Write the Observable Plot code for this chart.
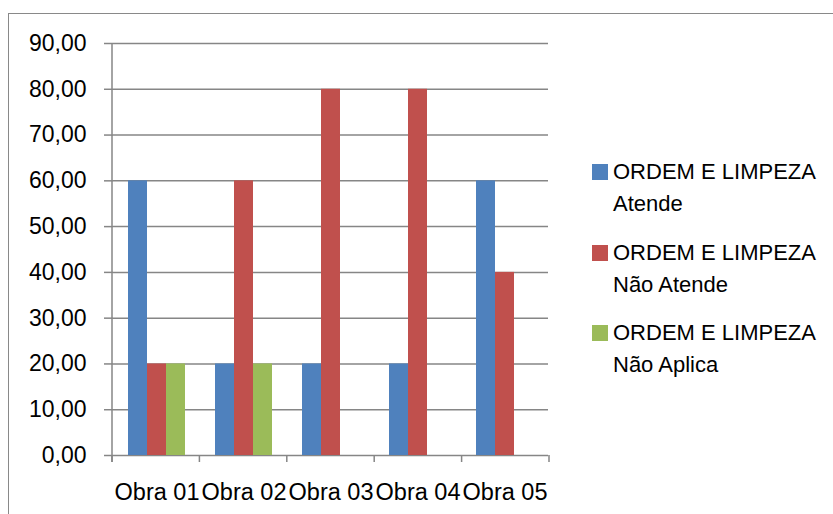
<!DOCTYPE html>
<html>
<head>
<meta charset="utf-8">
<script src="https://cdn.jsdelivr.net/npm/d3@7"></script>
<script src="https://cdn.jsdelivr.net/npm/@observablehq/plot@0.6"></script>
<style>
  html, body { margin: 0; padding: 0; background: #fff; }
  body { width: 833px; height: 514px; overflow: hidden; position: relative;
         font-family: 'Liberation Sans', Arial, sans-serif; }
  #frame { position: absolute; left: 8px; top: 13px; width: 900px; height: 600px;
           border-top: 1.5px solid #898989; border-left: 1.5px solid #898989; }
  #chart { position: absolute; left: 0; top: 0; }
  #legend { position: absolute; left: 613px; top: 0; font-size: 22px; color: #000; }
  .item { position: absolute; left: 0; white-space: nowrap; line-height: 32px; }
  .sw { position: absolute; left: -21px; top: 8px; width: 16px; height: 16px; }
</style>
</head>
<body>
<div id="frame"></div>
<div id="chart"></div>
<div id="legend"></div>
<script>
const categories = ["Obra 01", "Obra 02", "Obra 03", "Obra 04", "Obra 05"];
const seriesNames = ["ORDEM E LIMPEZA Atende", "ORDEM E LIMPEZA Não Atende", "ORDEM E LIMPEZA Não Aplica"];
const legendLine1 = ["ORDEM E LIMPEZA", "ORDEM E LIMPEZA", "ORDEM E LIMPEZA"];
const legendLine2 = ["Atende", "Não Atende", "Não Aplica"];
const atende = [60, 20, 20, 20, 60];
const naoAtende = [20, 60, 80, 80, 40];
const naoAplica = [20, 20, 0, 0, 0];
const seriesColors = ["#4F81BD", "#C0504D", "#9BBB59"];
const yTicks = [0, 10, 20, 30, 40, 50, 60, 70, 80, 90];

const seriesValues = [atende, naoAtende, naoAplica];
const data = categories.flatMap((c, i) =>
  seriesNames.map((s, j) => ({obra: c, serie: s, valor: seriesValues[j][i]}))
);

const fmt = d => d.toFixed(2).replace(".", ",");

const plot = Plot.plot({
  width: 560,
  height: 514,
  marginLeft: 112,
  marginRight: 11,
  marginTop: 43,
  marginBottom: 59,
  style: {fontFamily: "'Liberation Sans', Arial, sans-serif", fontSize: "22px", color: "#000", background: "transparent", overflow: "visible"},
  fx: {domain: categories, padding: 0, label: null},
  x: {domain: seriesNames, paddingInner: 0, paddingOuter: 0.75, axis: null},
  y: {domain: [0, 90], label: null},
  color: {domain: seriesNames, range: seriesColors},
  marks: [
    Plot.gridY(yTicks, {stroke: "#868686", strokeOpacity: 1, strokeWidth: 1.5}),
    Plot.barY(data, {fx: "obra", x: "serie", y: "valor", fill: "serie"}),
    Plot.axisY(yTicks, {tickSize: 9, tickPadding: 18, tickFormat: fmt, stroke: "#868686", strokeWidth: 1.5, fill: "#000", fontSize: 23, label: null}),
    Plot.axisFx({anchor: "bottom", tickSize: 0, tickPadding: 28, label: null, fill: "#000", fontSize: 23.5})
  ]
});
document.getElementById("chart").appendChild(plot);

// Excel-style axis line and category-boundary ticks, from Plot's own scales
const fxS = plot.scale("fx");
const yS = plot.scale("y");
const band = d3.scaleBand().domain(fxS.domain).range(fxS.range).padding(0);
const ySc = d3.scaleLinear().domain(yS.domain).range(yS.range);
const edges = [...fxS.domain.map(d => band(d)), band.range()[1]];
const g = d3.select(plot).append("g").attr("stroke", "#868686").attr("stroke-width", 1.5);
g.append("line").attr("x1", edges[0]).attr("x2", edges[0]).attr("y1", ySc(90)).attr("y2", ySc(0) + 7);
g.selectAll("line.tk").data(edges).join("line").attr("class", "tk")
  .attr("x1", d => d).attr("x2", d => d).attr("y1", ySc(0)).attr("y2", ySc(0) + 7);

// Legend
const legend = d3.select("#legend");
const tops = [156, 236.5, 317];
seriesNames.forEach((s, i) => {
  const it = legend.append("div").attr("class", "item").style("top", tops[i] + "px");
  it.append("div").attr("class", "sw").style("background", seriesColors[i]);
  it.append("div").text(legendLine1[i]);
  it.append("div").text(legendLine2[i]);
});
</script>
</body>
</html>
